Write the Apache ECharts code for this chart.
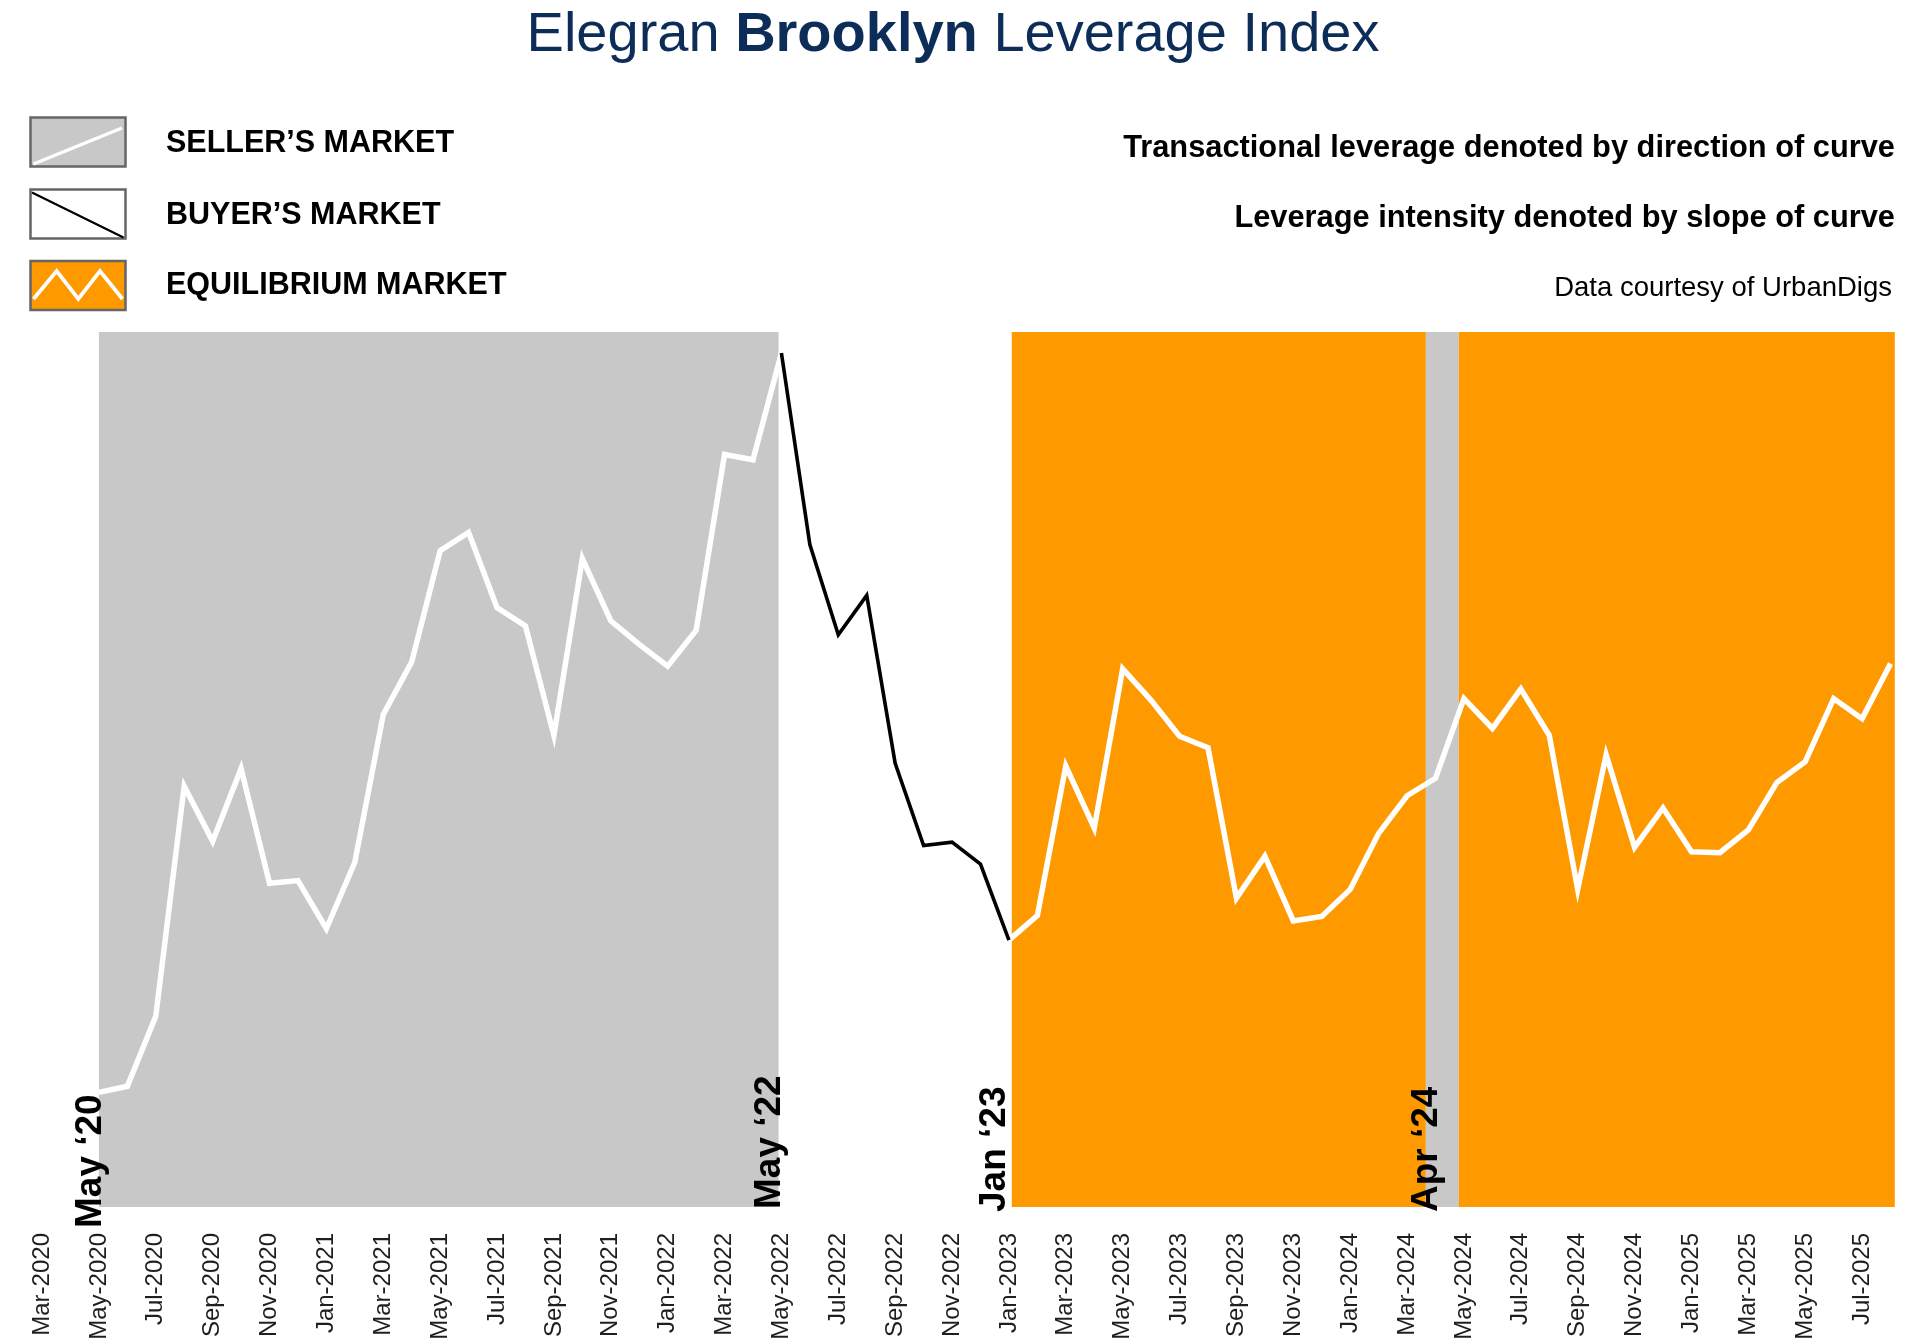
<!DOCTYPE html>
<html><head><meta charset="utf-8">
<script src="https://cdn.jsdelivr.net/npm/echarts@6/dist/echarts.min.js"></script>
<style>html,body{margin:0;padding:0;background:#fff}#chart{width:1920px;height:1343px}</style>
</head><body><div id="chart"></div>
<script>
// ---------- DATA ----------
const axisLead = ['Mar-2020', 'Apr-2020'];
const months = [
  'May-2020','Jun-2020','Jul-2020','Aug-2020','Sep-2020','Oct-2020','Nov-2020','Dec-2020',
  'Jan-2021','Feb-2021','Mar-2021','Apr-2021','May-2021','Jun-2021','Jul-2021','Aug-2021','Sep-2021','Oct-2021','Nov-2021','Dec-2021',
  'Jan-2022','Feb-2022','Mar-2022','Apr-2022','May-2022','Jun-2022','Jul-2022','Aug-2022','Sep-2022','Oct-2022','Nov-2022','Dec-2022',
  'Jan-2023','Feb-2023','Mar-2023','Apr-2023','May-2023','Jun-2023','Jul-2023','Aug-2023','Sep-2023','Oct-2023','Nov-2023','Dec-2023',
  'Jan-2024','Feb-2024','Mar-2024','Apr-2024','May-2024','Jun-2024','Jul-2024','Aug-2024','Sep-2024','Oct-2024','Nov-2024','Dec-2024',
  'Jan-2025','Feb-2025','Mar-2025','Apr-2025','May-2025','Jun-2025','Jul-2025','Aug-2025'
];
const leverage = [
  13.1, 13.8, 21.8, 48.1, 41.8, 50.1, 37.0, 37.3,
  31.8, 39.4, 56.3, 62.3, 75.0, 77.1, 68.5, 66.4, 53.9, 74.1, 67.0, 64.3,
  61.8, 65.9, 86.0, 85.4, 97.6, 75.7, 65.4, 69.9, 50.7, 41.3, 41.7, 39.2,
  30.5, 33.3, 50.4, 43.3, 61.5, 57.9, 53.8, 52.5, 35.3, 40.1, 32.7, 33.2,
  36.3, 42.7, 47.0, 49.0, 58.1, 54.7, 59.2, 53.9, 36.3, 51.7, 41.1, 45.6,
  40.6, 40.5, 43.1, 48.5, 50.9, 58.1, 55.8, 62.1
];
const tickLabels = [
  'Mar-2020','May-2020','Jul-2020','Sep-2020','Nov-2020','Jan-2021','Mar-2021','May-2021','Jul-2021',
  'Sep-2021','Nov-2021','Jan-2022','Mar-2022','May-2022','Jul-2022','Sep-2022','Nov-2022','Jan-2023',
  'Mar-2023','May-2023','Jul-2023','Sep-2023','Nov-2023','Jan-2024','Mar-2024','May-2024','Jul-2024',
  'Sep-2024','Nov-2024','Jan-2025','Mar-2025','May-2025','Jul-2025'
];
const buyerPeriod = ['May-2022', 'Jan-2023'];
// background spans, in month positions on the axis (Mar-2020 = 0)
const shadingSpans = [
  { market: 'seller',      from: 2,     to: 25.9 },
  { market: 'equilibrium', from: 34.1,  to: 48.66 },
  { market: 'seller',      from: 48.66, to: 49.82 },
  { market: 'equilibrium', from: 49.82, to: 65.15 }
];
const periodMarkers = [
  { month: 'May-2020', text: 'May \u201820' },
  { month: 'May-2022', text: 'May \u201822' },
  { month: 'Jan-2023', text: 'Jan \u201823' },
  { month: 'Apr-2024', text: 'Apr \u201824' }
];

// ---------- STYLE ----------
const FONT = '"Liberation Sans", Arial, Helvetica, sans-serif';
const GRAY = '#c8c8c8', ORANGE = '#ff9900', NAVY = '#0c2d57';
const markerOffsets = { 'May-2020': [10, 21], 'May-2022': [7, 2], 'Jan-2023': [4, 5], 'Apr-2024': [10, 5] };
const AXIS_MAX = 65.15;

const axisMonths = axisLead.concat(months);
const pos = m => axisMonths.indexOf(m);
const b0 = pos(buyerPeriod[0]), b1 = pos(buyerPeriod[1]);

const whiteData = months.map((m, i) => {
  const p = pos(m);
  return [p, (p > b0 && p < b1) ? null : leverage[i]];
});
const blackData = months.map((m, i) => [pos(m), leverage[i]]).filter(d => d[0] >= b0 && d[0] <= b1);

const chart = echarts.init(document.getElementById('chart'), null, { renderer: 'canvas' });

const option = {
  animation: false,
  backgroundColor: '#ffffff',
  grid: { left: 42, right: 1920 - 1894.8, top: 332, bottom: 1343 - 1207, containLabel: false },
  xAxis: {
    type: 'value', min: 0, max: AXIS_MAX, interval: 2,
    axisLine: { show: false }, axisTick: { show: false }, splitLine: { show: false },
    axisLabel: {
      rotate: 90, margin: 26, fontSize: 24, fontFamily: FONT, color: '#1f1f1f',
      showMinLabel: true, showMaxLabel: true,
      formatter: v => (Math.abs(v - Math.round(v)) < 1e-6 && Math.round(v) % 2 === 0) ? (tickLabels[Math.round(v) / 2] || '') : ''
    }
  },
  yAxis: { type: 'value', min: 0, max: 100, show: false },
  series: [
    {
      name: 'background', type: 'line', z: 1, silent: true, data: [[2, null]], symbol: 'none',
      markArea: {
        silent: true,
        data: shadingSpans.map(s => [
          { xAxis: s.from, itemStyle: { color: s.market === 'seller' ? GRAY : ORANGE, opacity: 1 } },
          { xAxis: s.to }
        ])
      }
    },
    {
      name: 'leverage', type: 'line', z: 3, data: whiteData, symbol: 'none', connectNulls: false,
      lineStyle: { color: '#ffffff', width: 5.5, join: 'miter', cap: 'butt' }
    },
    {
      name: 'buyer', type: 'line', z: 4, data: blackData, symbol: 'none',
      lineStyle: { color: '#000000', width: 3.6, join: 'miter', cap: 'butt' }
    }
  ]
};
chart.setOption(option);

// ---------- TEXT & LEGEND GRAPHICS ----------
const graphics = [];
graphics.push({
  type: 'text', x: 953, y: 36,
  style: {
    text: '{n|Elegran }{b|Brooklyn}{n| Leverage Index}',
    textAlign: 'center', textVerticalAlign: 'middle',
    rich: {
      n: { fontFamily: FONT, fontSize: 56, fontWeight: 'normal', fill: NAVY, color: NAVY },
      b: { fontFamily: FONT, fontSize: 56, fontWeight: 'bold', fill: NAVY, color: NAVY }
    }
  }
});
// legend boxes
graphics.push({ type: 'rect', shape: { x: 30.5, y: 117.5, width: 95, height: 49 }, style: { fill: GRAY, stroke: '#666666', lineWidth: 2.5 } });
graphics.push({ type: 'line', shape: { x1: 33.5, y1: 164, x2: 122, y2: 128 }, style: { stroke: '#ffffff', lineWidth: 3.5 } });
graphics.push({ type: 'rect', shape: { x: 30.5, y: 189.5, width: 95, height: 49 }, style: { fill: '#ffffff', stroke: '#666666', lineWidth: 2.5 } });
graphics.push({ type: 'line', shape: { x1: 32, y1: 192.5, x2: 123.5, y2: 237.5 }, style: { stroke: '#000000', lineWidth: 2.2 } });
graphics.push({ type: 'rect', shape: { x: 30.5, y: 261, width: 95, height: 49 }, style: { fill: ORANGE, stroke: '#666666', lineWidth: 2.5 } });
graphics.push({ type: 'polyline', shape: { points: [[33.5, 299], [56.7, 271], [78.3, 299], [100, 271], [122.5, 299]] }, style: { stroke: '#ffffff', lineWidth: 3.8, fill: null } });
const legendTexts = [["SELLER\u2019S MARKET", 143.5], ["BUYER\u2019S MARKET", 216], ['EQUILIBRIUM MARKET', 285.5]];
legendTexts.forEach(([t, y]) => graphics.push({
  type: 'text', x: 166, y: y,
  style: { text: t, font: 'bold 30.5px ' + FONT, fill: '#000', textAlign: 'left', textVerticalAlign: 'middle' }
}));
graphics.push({ type: 'text', x: 1895, y: 149, style: { text: 'Transactional leverage denoted by direction of curve', font: 'bold 30.8px ' + FONT, fill: '#000', textAlign: 'right', textVerticalAlign: 'middle' } });
graphics.push({ type: 'text', x: 1895, y: 219, style: { text: 'Leverage intensity denoted by slope of curve', font: 'bold 30.8px ' + FONT, fill: '#000', textAlign: 'right', textVerticalAlign: 'middle' } });
graphics.push({ type: 'text', x: 1892, y: 288, style: { text: 'Data courtesy of UrbanDigs', font: 'normal 27.5px ' + FONT, fill: '#000', textAlign: 'right', textVerticalAlign: 'middle' } });

// rotated period markers, placed from the axis scale
periodMarkers.forEach(pm => {
  const px = chart.convertToPixel({ gridIndex: 0 }, [pos(pm.month), 0]);
  const off = markerOffsets[pm.month];
  graphics.push({
    type: 'text', x: px[0] + off[0], y: px[1] + off[1], rotation: Math.PI / 2, z: 10,
    style: { text: pm.text, font: 'bold 37px ' + FONT, fill: '#000', textAlign: 'left', textVerticalAlign: 'bottom' }
  });
});
chart.setOption({ graphic: graphics });
</script>
</body></html>
